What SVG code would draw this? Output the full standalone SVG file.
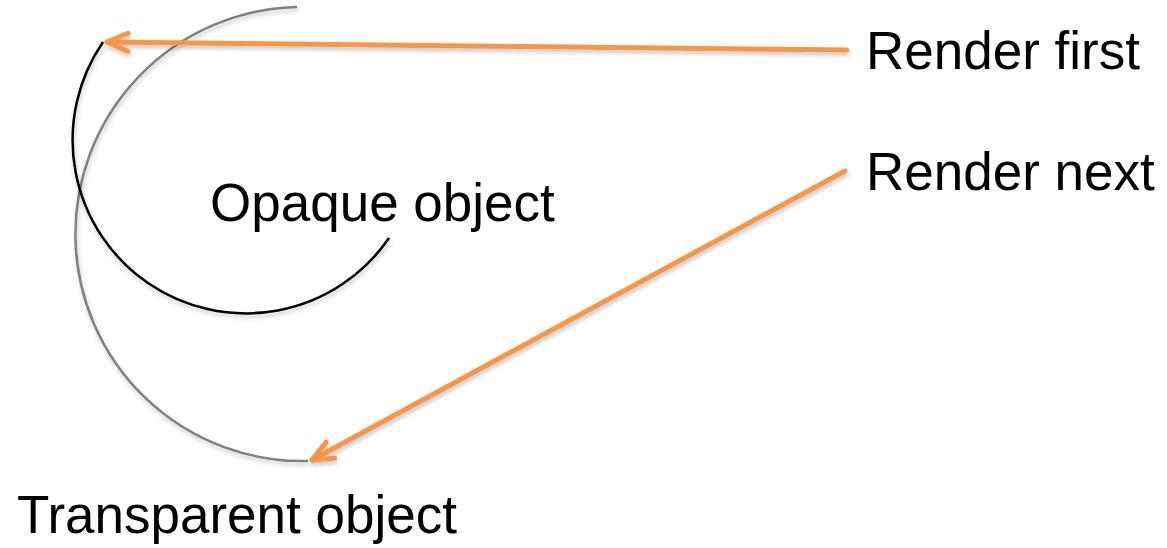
<svg xmlns="http://www.w3.org/2000/svg" width="1167" height="548" viewBox="0 0 1167 548">
  <style>
    .lbl { font-family: "Liberation Sans", Arial, sans-serif; font-size: 53px; fill: #000; }
    .arc { fill: none; stroke-width: 2.5; filter: url(#sh); }
    .conn { fill: none; stroke: #f79646; stroke-width: 5; stroke-linecap: round; filter: url(#sh); }
  </style>
  <defs>
    <filter id="sh" filterUnits="userSpaceOnUse" x="0" y="0" width="1167" height="548">
      <feDropShadow dx="1" dy="3" stdDeviation="2" flood-color="#000" flood-opacity="0.22"/>
    </filter>
    <marker id="ah" markerUnits="userSpaceOnUse" markerWidth="40" markerHeight="40" viewBox="-30 -20 40 40" refX="0" refY="0" orient="auto">
      <path d="M -21,-9 L 0,0 L -21,9" fill="none" stroke="#f79646" stroke-width="5" stroke-linecap="round" stroke-linejoin="round"/>
    </marker>
  </defs>
  <rect width="1167" height="548" fill="#fff"/>
  <g id="transparent-object">
    <path class="arc" stroke="#808080" d="M 297 7 A 227 227 0 1 0 308 461"/>
    <text class="lbl" x="17" y="533">Transparent object</text>
  </g>
  <g id="opaque-object">
    <path class="arc" stroke="#000" d="M 103 42 A 173 173 0 1 0 389 238"/>
    <text class="lbl" x="210" y="221">Opaque object</text>
  </g>
  <g id="render-first">
    <text class="lbl" x="866" y="69">Render first</text>
  </g>
  <g id="render-next">
    <text class="lbl" x="866" y="190">Render next</text>
  </g>
  <g id="connectors">
    <line class="conn" x1="847" y1="50" x2="107" y2="42" marker-end="url(#ah)"/>
    <line class="conn" x1="845" y1="171" x2="312" y2="460" marker-end="url(#ah)"/>
  </g>
</svg>
